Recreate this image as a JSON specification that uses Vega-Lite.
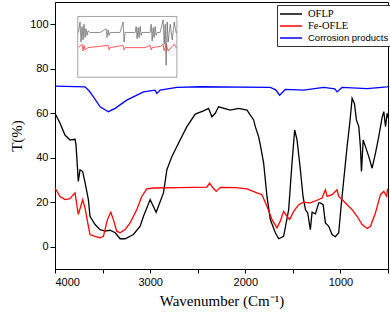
{
  "$schema": "https://vega.github.io/schema/vega-lite/v6.json",
  "autosize": "none",
  "width": 333,
  "height": 267,
  "padding": {"left": 55, "top": 2, "right": 2, "bottom": 46},
  "background": "white",
  "datasets": {
    "main": [
      {"w":4000,"t":60,"s":"OFLP"},{"w":3947,"t":55.5,"s":"OFLP"},{"w":3895,"t":50.2,"s":"OFLP"},{"w":3842,"t":48,"s":"OFLP"},{"w":3789,"t":48.3,"s":"OFLP"},{"w":3779,"t":45.8,"s":"OFLP"},{"w":3755,"t":29.4,"s":"OFLP"},{"w":3737,"t":34.6,"s":"OFLP"},{"w":3709,"t":33.8,"s":"OFLP"},{"w":3684,"t":28.8,"s":"OFLP"},{"w":3649,"t":21.2,"s":"OFLP"},{"w":3632,"t":13.7,"s":"OFLP"},{"w":3579,"t":10,"s":"OFLP"},{"w":3526,"t":7.7,"s":"OFLP"},{"w":3474,"t":7,"s":"OFLP"},{"w":3421,"t":7.4,"s":"OFLP"},{"w":3368,"t":6.3,"s":"OFLP"},{"w":3316,"t":3.6,"s":"OFLP"},{"w":3263,"t":3.6,"s":"OFLP"},{"w":3176,"t":5.5,"s":"OFLP"},{"w":3105,"t":9.2,"s":"OFLP"},{"w":3070,"t":13.7,"s":"OFLP"},{"w":3000,"t":21.2,"s":"OFLP"},{"w":2937,"t":15.5,"s":"OFLP"},{"w":2860,"t":24.2,"s":"OFLP"},{"w":2824,"t":34.6,"s":"OFLP"},{"w":2772,"t":40.5,"s":"OFLP"},{"w":2702,"t":46.5,"s":"OFLP"},{"w":2614,"t":54,"s":"OFLP"},{"w":2526,"t":59.6,"s":"OFLP"},{"w":2439,"t":61.1,"s":"OFLP"},{"w":2386,"t":62.2,"s":"OFLP"},{"w":2351,"t":58.4,"s":"OFLP"},{"w":2316,"t":60,"s":"OFLP"},{"w":2281,"t":62.9,"s":"OFLP"},{"w":2158,"t":61.4,"s":"OFLP"},{"w":2071,"t":62.2,"s":"OFLP"},{"w":1982,"t":61.4,"s":"OFLP"},{"w":1947,"t":59.2,"s":"OFLP"},{"w":1912,"t":57,"s":"OFLP"},{"w":1895,"t":54,"s":"OFLP"},{"w":1860,"t":49.5,"s":"OFLP"},{"w":1842,"t":45.8,"s":"OFLP"},{"w":1807,"t":37.6,"s":"OFLP"},{"w":1772,"t":22.6,"s":"OFLP"},{"w":1737,"t":12.2,"s":"OFLP"},{"w":1684,"t":6.3,"s":"OFLP"},{"w":1649,"t":3.6,"s":"OFLP"},{"w":1597,"t":4.7,"s":"OFLP"},{"w":1544,"t":16.7,"s":"OFLP"},{"w":1509,"t":37.6,"s":"OFLP"},{"w":1481,"t":52.5,"s":"OFLP"},{"w":1456,"t":48,"s":"OFLP"},{"w":1421,"t":34.6,"s":"OFLP"},{"w":1393,"t":22.6,"s":"OFLP"},{"w":1368,"t":16.7,"s":"OFLP"},{"w":1344,"t":15.2,"s":"OFLP"},{"w":1316,"t":7.7,"s":"OFLP"},{"w":1298,"t":15.5,"s":"OFLP"},{"w":1263,"t":14.8,"s":"OFLP"},{"w":1228,"t":19.7,"s":"OFLP"},{"w":1211,"t":19.7,"s":"OFLP"},{"w":1182,"t":18.9,"s":"OFLP"},{"w":1158,"t":10.7,"s":"OFLP"},{"w":1123,"t":9.2,"s":"OFLP"},{"w":1088,"t":5.5,"s":"OFLP"},{"w":1053,"t":4.5,"s":"OFLP"},{"w":1018,"t":6.3,"s":"OFLP"},{"w":993,"t":18.2,"s":"OFLP"},{"w":965,"t":30.1,"s":"OFLP"},{"w":930,"t":45,"s":"OFLP"},{"w":902,"t":55.5,"s":"OFLP"},{"w":877,"t":66.7,"s":"OFLP"},{"w":853,"t":64.4,"s":"OFLP"},{"w":832,"t":57,"s":"OFLP"},{"w":807,"t":54,"s":"OFLP"},{"w":790,"t":45,"s":"OFLP"},{"w":779,"t":33.8,"s":"OFLP"},{"w":761,"t":48,"s":"OFLP"},{"w":737,"t":45,"s":"OFLP"},{"w":702,"t":40.5,"s":"OFLP"},{"w":667,"t":35.3,"s":"OFLP"},{"w":632,"t":42,"s":"OFLP"},{"w":597,"t":49.5,"s":"OFLP"},{"w":561,"t":58.4,"s":"OFLP"},{"w":544,"t":60.7,"s":"OFLP"},{"w":526,"t":54,"s":"OFLP"},{"w":509,"t":60,"s":"OFLP"},{"w":500,"t":58,"s":"OFLP"},
      {"w":4000,"t":26.4,"s":"Fe-OFLE"},{"w":3947,"t":22.6,"s":"Fe-OFLE"},{"w":3895,"t":21.2,"s":"Fe-OFLE"},{"w":3842,"t":21.6,"s":"Fe-OFLE"},{"w":3807,"t":23.4,"s":"Fe-OFLE"},{"w":3789,"t":24.2,"s":"Fe-OFLE"},{"w":3755,"t":14.5,"s":"Fe-OFLE"},{"w":3709,"t":21.2,"s":"Fe-OFLE"},{"w":3684,"t":17.4,"s":"Fe-OFLE"},{"w":3649,"t":9.2,"s":"Fe-OFLE"},{"w":3632,"t":5.5,"s":"Fe-OFLE"},{"w":3579,"t":4.7,"s":"Fe-OFLE"},{"w":3526,"t":4,"s":"Fe-OFLE"},{"w":3491,"t":4.7,"s":"Fe-OFLE"},{"w":3449,"t":12.2,"s":"Fe-OFLE"},{"w":3414,"t":15.5,"s":"Fe-OFLE"},{"w":3386,"t":12.2,"s":"Fe-OFLE"},{"w":3351,"t":7,"s":"Fe-OFLE"},{"w":3316,"t":6.3,"s":"Fe-OFLE"},{"w":3263,"t":7.7,"s":"Fe-OFLE"},{"w":3211,"t":10.7,"s":"Fe-OFLE"},{"w":3140,"t":16.7,"s":"Fe-OFLE"},{"w":3088,"t":22.6,"s":"Fe-OFLE"},{"w":3035,"t":26,"s":"Fe-OFLE"},{"w":2965,"t":26.4,"s":"Fe-OFLE"},{"w":2700,"t":26.6,"s":"Fe-OFLE"},{"w":2404,"t":26.8,"s":"Fe-OFLE"},{"w":2375,"t":28.6,"s":"Fe-OFLE"},{"w":2340,"t":26.5,"s":"Fe-OFLE"},{"w":2305,"t":24.9,"s":"Fe-OFLE"},{"w":2263,"t":26.7,"s":"Fe-OFLE"},{"w":2100,"t":26.6,"s":"Fe-OFLE"},{"w":1982,"t":26,"s":"Fe-OFLE"},{"w":1877,"t":24.2,"s":"Fe-OFLE"},{"w":1825,"t":23.4,"s":"Fe-OFLE"},{"w":1772,"t":18.2,"s":"Fe-OFLE"},{"w":1719,"t":12.2,"s":"Fe-OFLE"},{"w":1667,"t":8.5,"s":"Fe-OFLE"},{"w":1632,"t":11.5,"s":"Fe-OFLE"},{"w":1597,"t":15.9,"s":"Fe-OFLE"},{"w":1561,"t":13.7,"s":"Fe-OFLE"},{"w":1534,"t":12.2,"s":"Fe-OFLE"},{"w":1491,"t":15.9,"s":"Fe-OFLE"},{"w":1439,"t":18.9,"s":"Fe-OFLE"},{"w":1386,"t":20,"s":"Fe-OFLE"},{"w":1316,"t":19.7,"s":"Fe-OFLE"},{"w":1246,"t":20.9,"s":"Fe-OFLE"},{"w":1193,"t":21.9,"s":"Fe-OFLE"},{"w":1158,"t":25.6,"s":"Fe-OFLE"},{"w":1140,"t":22.6,"s":"Fe-OFLE"},{"w":1088,"t":23.4,"s":"Fe-OFLE"},{"w":1035,"t":25.6,"s":"Fe-OFLE"},{"w":1018,"t":22.6,"s":"Fe-OFLE"},{"w":983,"t":21.2,"s":"Fe-OFLE"},{"w":930,"t":18.9,"s":"Fe-OFLE"},{"w":877,"t":16.7,"s":"Fe-OFLE"},{"w":825,"t":13.7,"s":"Fe-OFLE"},{"w":772,"t":10,"s":"Fe-OFLE"},{"w":719,"t":8.2,"s":"Fe-OFLE"},{"w":684,"t":9.2,"s":"Fe-OFLE"},{"w":632,"t":15.2,"s":"Fe-OFLE"},{"w":579,"t":23.4,"s":"Fe-OFLE"},{"w":544,"t":24.9,"s":"Fe-OFLE"},{"w":514,"t":22.6,"s":"Fe-OFLE"},{"w":505,"t":26,"s":"Fe-OFLE"},{"w":500,"t":25,"s":"Fe-OFLE"},
      {"w":4000,"t":72.2,"s":"Corrosion products"},{"w":3684,"t":71.9,"s":"Corrosion products"},{"w":3640,"t":70,"s":"Corrosion products"},{"w":3596,"t":67.4,"s":"Corrosion products"},{"w":3526,"t":62.9,"s":"Corrosion products"},{"w":3439,"t":60.7,"s":"Corrosion products"},{"w":3368,"t":62.2,"s":"Corrosion products"},{"w":3246,"t":65.9,"s":"Corrosion products"},{"w":3070,"t":69.6,"s":"Corrosion products"},{"w":2947,"t":70.4,"s":"Corrosion products"},{"w":2930,"t":68.9,"s":"Corrosion products"},{"w":2895,"t":70.4,"s":"Corrosion products"},{"w":2719,"t":71.6,"s":"Corrosion products"},{"w":2474,"t":71.9,"s":"Corrosion products"},{"w":1737,"t":71.6,"s":"Corrosion products"},{"w":1680,"t":70.5,"s":"Corrosion products"},{"w":1639,"t":68.1,"s":"Corrosion products"},{"w":1579,"t":70.7,"s":"Corrosion products"},{"w":1386,"t":70.4,"s":"Corrosion products"},{"w":1175,"t":71.6,"s":"Corrosion products"},{"w":1060,"t":71,"s":"Corrosion products"},{"w":1035,"t":69.6,"s":"Corrosion products"},{"w":983,"t":71.6,"s":"Corrosion products"},{"w":719,"t":71.1,"s":"Corrosion products"},{"w":509,"t":71.9,"s":"Corrosion products"},{"w":500,"t":72,"s":"Corrosion products"}
    ],
    "insetBox": [{"x1":3761,"x2":2719,"y1":76.2,"y2":103.5}],
    "insetBlack": [
      {"w":3753,"t":96.3},{"w":3737,"t":101},{"w":3726,"t":92},{"w":3716,"t":99},{"w":3705,"t":93},{"w":3695,"t":100},{"w":3684,"t":94},{"w":3674,"t":98},{"w":3663,"t":95},{"w":3653,"t":97},{"w":3632,"t":96.3},{"w":3579,"t":96.3},{"w":3526,"t":96.3},{"w":3463,"t":98},{"w":3453,"t":94},{"w":3442,"t":97.5},{"w":3432,"t":95},{"w":3421,"t":96.3},{"w":3368,"t":96.3},{"w":3316,"t":96.3},{"w":3284,"t":101},{"w":3274,"t":92},{"w":3263,"t":96.3},{"w":3211,"t":96.3},{"w":3158,"t":96.3},{"w":3147,"t":99},{"w":3137,"t":93.5},{"w":3126,"t":98.5},{"w":3116,"t":94},{"w":3105,"t":99},{"w":3095,"t":95},{"w":3084,"t":96.3},{"w":3053,"t":96.3},{"w":3000,"t":96.3},{"w":2989,"t":100},{"w":2979,"t":92.5},{"w":2968,"t":98.5},{"w":2958,"t":94},{"w":2947,"t":99},{"w":2937,"t":95},{"w":2926,"t":96.3},{"w":2895,"t":96.3},{"w":2863,"t":102},{"w":2853,"t":91},{"w":2842,"t":100},{"w":2832,"t":81.6},{"w":2821,"t":101},{"w":2811,"t":92},{"w":2789,"t":100},{"w":2768,"t":93},{"w":2747,"t":101},{"w":2726,"t":96}
    ],
    "insetRed": [
      {"w":3753,"t":89.5},{"w":3716,"t":91},{"w":3705,"t":88},{"w":3695,"t":90.5},{"w":3684,"t":88.5},{"w":3653,"t":89.5},{"w":3442,"t":90.5},{"w":3432,"t":88.5},{"w":3421,"t":89.5},{"w":3284,"t":90.5},{"w":3274,"t":88.5},{"w":3263,"t":89.5},{"w":3053,"t":89.5},{"w":3000,"t":90.5},{"w":2989,"t":88.5},{"w":2979,"t":89.5},{"w":2895,"t":90},{"w":2863,"t":91},{"w":2853,"t":88},{"w":2832,"t":91},{"w":2811,"t":88},{"w":2747,"t":91},{"w":2726,"t":89.5}
    ]
  },
  "layer": [
    {
      "data": {"name": "main"},
      "mark": {"type": "line", "strokeWidth": 1.3},
      "encoding": {
        "x": {
          "field": "w", "type": "quantitative",
          "title": "Wavenumber (Cm⁻¹)",
          "scale": {"domain": [500, 4000], "reverse": true, "nice": false, "zero": false},
          "axis": {
            "values": [500, 1000, 1500, 2000, 2500, 3000, 3500, 4000],
            "format": "d",
            "labelExpr": "datum.value % 1000 === 0 ? datum.label : ''",
            "labelOverlap": false,
            "tickSize": 4,
            "labelPadding": 3,
            "titlePadding": 6
          }
        },
        "y": {
          "field": "t", "type": "quantitative",
          "title": "T(%)",
          "scale": {"domain": [-10, 110], "nice": false, "zero": false},
          "axis": {
            "values": [0, 20, 40, 60, 80, 100],
            "format": "d",
            "labelOverlap": false,
            "tickSize": 5,
            "labelPadding": 2,
            "titlePadding": 5
          }
        },
        "color": {
          "field": "s", "type": "nominal",
          "scale": {"domain": ["OFLP", "Fe-OFLE", "Corrosion products"], "range": ["#000000", "#ff0000", "#0000ff"]},
          "legend": {
            "title": null,
            "orient": "none",
            "legendX": 222,
            "legendY": 3,
            "strokeColor": "#333",
            "fillColor": "white",
            "padding": 3,
            "symbolType": "M-2.2,0H2.2",
            "symbolSize": 100,
            "symbolOffset": 5,
            "symbolStrokeWidth": 1.5,
            "labelFont": "Liberation Serif",
            "labelFontSize": 10.5,
            "labelColor": "black",
            "rowPadding": 0,
            "labelOffset": 11,
            "encode": {
              "labels": {
                "update": {
                  "font": {"signal": "datum.label === 'Corrosion products' ? 'Liberation Sans' : 'Liberation Serif'"},
                  "fontSize": {"signal": "datum.label === 'Corrosion products' ? 9.5 : 10.5"}
                }
              }
            }
          }
        }
      }
    },
    {
      "data": {"name": "insetBox"},
      "mark": {"type": "rect", "fill": "white", "stroke": "#666", "strokeWidth": 0.6},
      "encoding": {
        "x": {"field": "x1", "type": "quantitative"},
        "x2": {"field": "x2"},
        "y": {"field": "y1", "type": "quantitative"},
        "y2": {"field": "y2"}
      }
    },
    {
      "data": {"name": "insetBlack"},
      "mark": {"type": "line", "color": "#444", "strokeWidth": 0.6},
      "encoding": {
        "x": {"field": "w", "type": "quantitative"},
        "y": {"field": "t", "type": "quantitative"}
      }
    },
    {
      "data": {"name": "insetRed"},
      "mark": {"type": "line", "color": "#f33", "strokeWidth": 0.8},
      "encoding": {
        "x": {"field": "w", "type": "quantitative"},
        "y": {"field": "t", "type": "quantitative"}
      }
    }
  ],
  "config": {
    "view": {"stroke": "black", "strokeWidth": 1},
    "axis": {
      "grid": false,
      "labelFont": "Liberation Sans",
      "labelFontSize": 11,
      "labelColor": "black",
      "titleFont": "Liberation Serif",
      "titleFontSize": 15,
      "titleFontWeight": "normal",
      "titleColor": "black",
      "domainColor": "black",
      "tickColor": "black"
    }
  }
}
